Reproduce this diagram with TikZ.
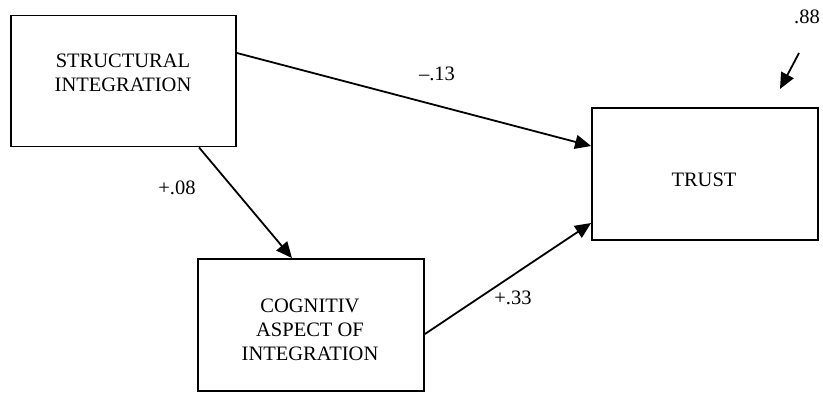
\documentclass[tikz,border=0pt]{standalone}
\usepackage{fontspec}
\setmainfont{Liberation Serif}
\usetikzlibrary{arrows.meta}
\begin{document}
\begin{tikzpicture}[x=1pt,y=-1pt,
  box/.style={draw,line width=1.8pt,rectangle,inner sep=0pt},
  txt/.style={align=center,font=\fontsize{20.5}{24}\selectfont,inner sep=0pt},
  lbl/.style={font=\fontsize{20.5}{24}\selectfont,inner sep=0pt},
  arr/.style={line width=1.8pt,-{Triangle[length=16pt,width=14pt]}}]
\useasboundingbox (0,0) rectangle (823,392);
\node[box,minimum width=225,minimum height=131] (si) at (123.5,81) {};
\node[txt] (sit) at (123,73) {STRUCTURAL\\INTEGRATION};
\node[box,minimum width=226,minimum height=132] (trust) at (705,174) {};
\node[txt] (trustt) at (704,180) {TRUST};
\node[box,minimum width=226,minimum height=132] (cog) at (311,325) {};
\node[txt] (cogt) at (310,330) {COGNITIV\\ASPECT OF\\INTEGRATION};
\draw[arr] ([yshift=28]si.east) -- ([yshift=28]trust.west);
\draw[arr] ([xshift=75.5]si.south) -- ([xshift=-19]cog.north);
\draw[arr] ([yshift=-9]cog.east) -- ([yshift=-49]trust.west);
\coordinate (res) at (799,53);
\coordinate (resend) at (780,89);
\draw[arr] (res) -- (resend);
\node[lbl] (l13) at (437,74) {–.13};
\node[lbl] (l08) at (177,188) {+.08};
\node[lbl] (l33) at (513,298) {+.33};
\node[lbl] (l88) at (807,17) {.88};
\end{tikzpicture}
\end{document}
